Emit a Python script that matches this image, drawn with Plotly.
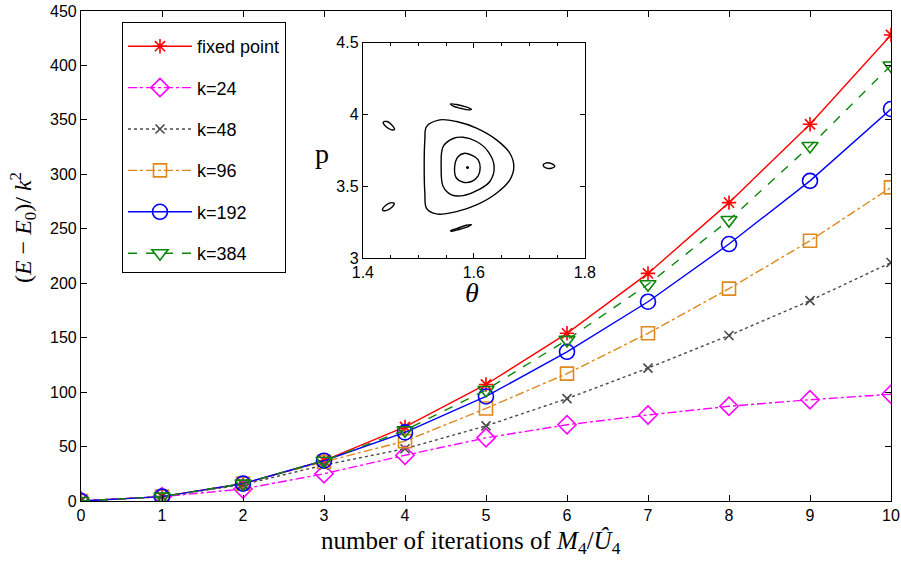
import plotly.graph_objects as go

# ---------------- main data ----------------
iterations = [0, 1, 2, 3, 4, 5, 6, 7, 8, 9, 10]
fixed_point = [0, 4, 16, 37, 68, 107, 154, 209, 274, 346, 428]
k24 = [0, 4, 11, 25, 42, 58, 70, 79, 87, 93, 98]
k48 = [0, 4, 15, 33, 48, 69, 94, 122, 152, 184, 219]
k96 = [0, 4, 16, 36, 55, 85, 117, 154, 195, 239, 288]
k192 = [0, 4, 16, 37, 63, 96, 137, 183, 236, 294, 360]
k384 = [0, 4, 16, 37, 65, 102, 148, 199, 258, 326, 400]

x_ticks = [0, 1, 2, 3, 4, 5, 6, 7, 8, 9, 10]
y_ticks = [0, 50, 100, 150, 200, 250, 300, 350, 400, 450]

# ---------------- inset data (theta, p) ----------------
outer_theta = [1.5147, 1.5387, 1.5688, 1.6048, 1.6408, 1.6649, 1.6721, 1.6649, 1.6408,
               1.6048, 1.5688, 1.5327, 1.5147, 1.5117, 1.5105, 1.5117, 1.5147]
outer_p = [3.9163, 3.9628, 3.9512, 3.9047, 3.8233, 3.7302, 3.6372, 3.5442, 3.4512,
           3.3698, 3.3233, 3.3070, 3.3465, 3.4512, 3.6372, 3.8233, 3.9163]

middle_theta = [1.5447, 1.5628, 1.5808, 1.6048, 1.6258, 1.6366, 1.6288, 1.6078, 1.5808,
                1.5598, 1.5447, 1.5411, 1.5447]
middle_p = [3.777, 3.833, 3.842, 3.812, 3.742, 3.637, 3.533, 3.474, 3.435,
            3.440, 3.498, 3.637, 3.777]

inner_theta = [1.5718, 1.5838, 1.5988, 1.6078, 1.6114, 1.6078, 1.5958, 1.5808, 1.5688,
               1.5652, 1.5718]
inner_p = [3.707, 3.730, 3.712, 3.684, 3.630, 3.572, 3.533, 3.528, 3.556,
           3.626, 3.707]

center_theta = [1.5886]
center_p = [3.630]

island_top_theta = [1.5580, 1.5688, 1.5838, 1.5958, 1.5898, 1.5778, 1.5628, 1.5580]
island_top_p = [4.0744, 4.0698, 4.0558, 4.0372, 4.0326, 4.0419, 4.0581, 4.0744]

island_bottom_theta = [1.5580, 1.5688, 1.5868, 1.5958, 1.5898, 1.5748, 1.5598, 1.5580]
island_bottom_p = [3.1907, 3.2047, 3.2279, 3.2326, 3.2186, 3.2000, 3.1860, 3.1907]

island_lt_theta = [1.4366, 1.4438, 1.4535, 1.4571, 1.4517, 1.4414, 1.4366]
island_lt_p = [3.9465, 3.9512, 3.9209, 3.8977, 3.8930, 3.9163, 3.9465]

island_lb_theta = [1.4354, 1.4414, 1.4517, 1.4565, 1.4523, 1.4414, 1.4354]
island_lb_p = [3.3349, 3.3674, 3.3860, 3.3791, 3.3535, 3.3302, 3.3349]

island_r_theta = [1.7249, 1.7309, 1.7399, 1.7459, 1.7399, 1.7297, 1.7249]
island_r_p = [3.6465, 3.6628, 3.6581, 3.6395, 3.6256, 3.6279, 3.6465]

inset_x_ticks = [1.4, 1.6, 1.8]
inset_y_ticks = [3, 3.5, 4, 4.5]
inset_y_labels = ["3", "3.5", "4", "4.5"]

# ---------------- figure ----------------
fig = go.Figure()

series = [
    ("fixed point", fixed_point, "#ff0000", "solid", "asterisk-open", 12),
    ("k=24", k24, "#ff00ff", "dashdot", "diamond-open", 14),
    ("k=48", k48, "#4a4a4a", "dot", "x-thin-open", 9),
    ("k=96", k96, "#df881c", "dashdot", "square-open", 13),
    ("k=192", k192, "#0000ff", "solid", "circle-open", 15),
    ("k=384", k384, "#0a870a", "dash", "triangle-down-open", 14),
]
for i, (name, vals, col, dash, sym, size) in enumerate(series):
    fig.add_trace(go.Scatter(
        x=iterations, y=vals, name=name, mode="lines+markers",
        line=dict(color=col, width=1.4, dash=dash),
        marker=dict(symbol=sym, size=size, color=col, line=dict(color=col, width=1.6)),
        legendgroup=f"g{i}", xaxis="x", yaxis="y",
    ))

inset_curves = [
    (outer_theta, outer_p), (middle_theta, middle_p), (inner_theta, inner_p),
    (island_top_theta, island_top_p), (island_bottom_theta, island_bottom_p),
    (island_lt_theta, island_lt_p), (island_lb_theta, island_lb_p),
    (island_r_theta, island_r_p),
]
for tx, py in inset_curves:
    fig.add_trace(go.Scatter(
        x=tx, y=py, mode="lines", line=dict(color="black", width=1.4, shape="spline", smoothing=1.0),
        showlegend=False, xaxis="x2", yaxis="y2", hoverinfo="skip",
    ))
fig.add_trace(go.Scatter(
    x=center_theta, y=center_p, mode="markers", marker=dict(color="black", size=3),
    showlegend=False, xaxis="x2", yaxis="y2",
))

tickfont = dict(family="Liberation Sans, Arial, sans-serif", size=16, color="black")

fig.update_layout(
    width=901, height=564,
    margin=dict(l=81, r=10, t=11, b=63, autoexpand=False),
    paper_bgcolor="white", plot_bgcolor="white",
    font=tickfont,
    xaxis=dict(range=[0, 10], tickvals=x_ticks, ticks="inside", ticklen=6, tickwidth=1,
               tickcolor="black", showline=True, linecolor="black", linewidth=1.2,
               mirror="ticks", showgrid=False, zeroline=False, tickfont=tickfont,
               domain=[0, 1], automargin=False, ticklabeloverflow="allow"),
    yaxis=dict(range=[0, 450], tickvals=y_ticks, ticks="inside", ticklen=6, tickwidth=1,
               tickcolor="black", showline=True, linecolor="black", linewidth=1.2,
               mirror="ticks", showgrid=False, zeroline=False, tickfont=tickfont,
               domain=[0, 1], automargin=False, ticklabeloverflow="allow"),
    xaxis2=dict(range=[1.4, 1.8], tickvals=inset_x_ticks, ticktext=["1.4", "1.6", "1.8"],
                ticks="inside", ticklen=5, tickcolor="black", showline=True,
                linecolor="black", linewidth=1.2, mirror="ticks", showgrid=False,
                zeroline=False, tickfont=tickfont, domain=[0.348, 0.622], anchor="y2",
                automargin=False,
                minor=dict(dtick=0.05, ticks="inside", ticklen=3, tickcolor="black")),
    yaxis2=dict(range=[3, 4.5], tickvals=inset_y_ticks, ticktext=inset_y_labels,
                ticks="inside", ticklen=5, tickcolor="black", showline=True,
                linecolor="black", linewidth=1.2, mirror="ticks", showgrid=False,
                zeroline=False, tickfont=tickfont, domain=[0.496, 0.935], anchor="x2",
                automargin=False),
    legend=dict(x=0.0506, y=0.978, xanchor="left", yanchor="top",
                bgcolor="white", bordercolor="black", borderwidth=1,
                font=dict(family="Liberation Sans, Arial, sans-serif", size=18, color="black"),
                title=dict(text=" ", font=dict(size=4)),
                tracegroupgap=15, itemwidth=64),
    showlegend=True,
)

serif = "Liberation Serif, Times New Roman, serif"
fig.add_annotation(
    text="(<i>E</i> − <i>E</i><sub>0</sub>)/ <i>k</i><sup>2</sup>",
    xref="paper", yref="paper", x=-0.0716, y=0.557, textangle=-90,
    showarrow=False, font=dict(family=serif, size=24, color="black"),
    xanchor="center", yanchor="middle",
)
fig.add_annotation(
    text="number of iterations of <i>M</i><sub>4</sub>/<i>Û</i><sub>4</sub>",
    xref="paper", yref="paper", x=0.481, y=-0.0857,
    showarrow=False, font=dict(family=serif, size=25, color="black"),
    xanchor="center", yanchor="middle",
)
fig.add_annotation(
    text="p", xref="paper", yref="paper", x=0.2975, y=0.71,
    showarrow=False, font=dict(family=serif, size=28, color="black"),
    xanchor="center", yanchor="middle",
)
fig.add_annotation(
    text="<i>θ</i>", xref="paper", yref="paper", x=0.483, y=0.425,
    showarrow=False, font=dict(family=serif, size=28, color="black"),
    xanchor="center", yanchor="middle",
)

fig.write_html(
    "out.html",
    config={"displayModeBar": False},
    post_script="document.body.style.margin='0px';document.body.style.overflow='hidden';",
)
